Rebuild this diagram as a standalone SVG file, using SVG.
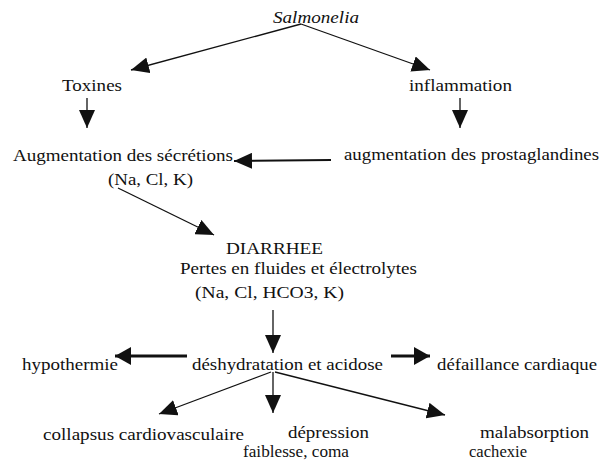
<svg xmlns="http://www.w3.org/2000/svg" width="603" height="465" viewBox="0 0 603 465">
<style>
text{font-family:"Times New Roman",Times,Tinos,"Liberation Serif","DejaVu Serif","Noto Serif",Georgia,serif;font-size:16.5px;fill:#111}
.it{font-style:italic}
.c{stroke:#111;stroke-width:1.3;fill:none;marker-end:url(#ah)}
.t{stroke:#111;stroke-width:3;fill:none;marker-end:url(#ahb)}
</style>
<defs>
<marker id="ah" viewBox="0 0 18 16" markerWidth="18" markerHeight="16" refX="18" refY="8" orient="auto" markerUnits="userSpaceOnUse"><path d="M0,0 L18,8 L0,16 z" fill="#111"/></marker>
<marker id="ahb" viewBox="0 0 16 18" markerWidth="16" markerHeight="18" refX="16" refY="9" orient="auto" markerUnits="userSpaceOnUse"><path d="M0,0 L16,9 L0,18 z" fill="#111"/></marker>
</defs>
<rect width="603" height="465" fill="#fff"/>
<g id="connectors">
<line class="c" x1="301" y1="24" x2="131" y2="70"/>
<line class="c" x1="301" y1="24" x2="430" y2="70"/>
<line class="c" x1="87" y1="98" x2="87" y2="128"/>
<line class="c" x1="460" y1="98" x2="460" y2="128"/>
<line class="c" style="stroke-width:2" x1="331" y1="160" x2="234" y2="161"/>
<line class="c" x1="118" y1="188" x2="214" y2="235"/>
<line class="c" x1="273" y1="310" x2="273" y2="353"/>
<line class="t" x1="187" y1="356" x2="115" y2="356"/>
<line class="t" x1="391" y1="356" x2="430" y2="356"/>
<line class="c" x1="271" y1="372" x2="159" y2="414"/>
<line class="c" x1="273" y1="372" x2="273" y2="413"/>
<line class="c" x1="275" y1="372" x2="445" y2="415"/>
</g>
<g id="salmonelia"><text class="it" x="273" y="23" textLength="86" lengthAdjust="spacingAndGlyphs">Salmonelia</text></g>
<g id="toxines"><text x="62" y="91" textLength="60" lengthAdjust="spacingAndGlyphs">Toxines</text></g>
<g id="inflammation"><text x="409" y="91" textLength="103" lengthAdjust="spacingAndGlyphs">inflammation</text></g>
<g id="secretions">
<text x="13" y="161" textLength="220" lengthAdjust="spacingAndGlyphs">Augmentation des sécrétions</text>
<text x="108" y="185" textLength="85" lengthAdjust="spacingAndGlyphs">(Na, Cl, K)</text>
</g>
<g id="prostaglandines"><text x="344" y="160" textLength="255" lengthAdjust="spacingAndGlyphs">augmentation des prostaglandines</text></g>
<g id="diarrhee">
<text x="226" y="254" textLength="97" lengthAdjust="spacingAndGlyphs">DIARRHEE</text>
<text x="180" y="274" textLength="237" lengthAdjust="spacingAndGlyphs">Pertes en fluides et électrolytes</text>
<text x="195" y="298" textLength="149" lengthAdjust="spacingAndGlyphs">(Na, Cl, HCO3, K)</text>
</g>
<g id="hypothermie"><text x="22" y="370" textLength="96" lengthAdjust="spacingAndGlyphs">hypothermie</text></g>
<g id="deshydratation"><text x="192" y="370" textLength="191" lengthAdjust="spacingAndGlyphs">déshydratation et acidose</text></g>
<g id="defaillance"><text x="437" y="370" textLength="160" lengthAdjust="spacingAndGlyphs">défaillance cardiaque</text></g>
<g id="collapsus"><text x="43" y="440" textLength="201" lengthAdjust="spacingAndGlyphs">collapsus cardiovasculaire</text></g>
<g id="depression">
<text x="288" y="438" textLength="81" lengthAdjust="spacingAndGlyphs">dépression</text>
<text x="243" y="457" textLength="106" lengthAdjust="spacingAndGlyphs">faiblesse, coma</text>
</g>
<g id="malabsorption">
<text x="480" y="438" textLength="109" lengthAdjust="spacingAndGlyphs">malabsorption</text>
<text x="469" y="457" textLength="58" lengthAdjust="spacingAndGlyphs">cachexie</text>
</g>
</svg>
